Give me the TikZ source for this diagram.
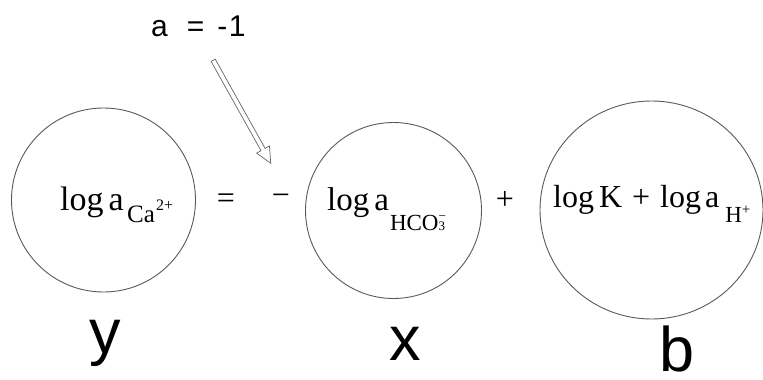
\documentclass[tikz,border=0pt]{standalone}
\usepackage{fontspec}
\setmainfont{Liberation Serif}
\newfontfamily\labelfont{Liberation Sans}
\usetikzlibrary{shapes.geometric,shapes.arrows}
\newcommand{\mysub}[3]{\raisebox{-#1}{\fontsize{#2}{#2}\selectfont #3}}
\begin{document}
\begin{tikzpicture}[x=1pt,y=-1pt,
  ring/.style={draw=black!65, line width=0.9pt, inner sep=0},
  eqtext/.style={inner sep=0, anchor=base west},
  sym/.style={inner sep=0, font=\fontsize{32}{32}\selectfont},
  varlabel/.style={inner sep=0, anchor=base, font=\labelfont\fontsize{63}{63}\selectfont},
  hollowarrow/.style={single arrow, draw=black!60, line width=0.7pt, inner sep=2pt,
    single arrow head extend=5pt, single arrow tip angle=50, minimum height=118pt,
    anchor=tail, rotate=-60.8},
]
\useasboundingbox (0,0) rectangle (763,380);

% circles
\node[ring, circle, minimum size=184pt] (c1) at (103.5,200) {};
\node[ring, circle, minimum size=176pt] (c2) at (393.5,210.5) {};
\node[ring, ellipse, minimum width=223pt, minimum height=218pt] (c3) at (651.5,210) {};

% equation texts
\node[eqtext, font=\fontsize{34}{34}\selectfont] (t1) at (60,210)
  {log\hspace{5pt}a\hspace{3.5pt}\mysub{12pt}{25}{Ca\hspace{1pt}\raisebox{12pt}{\fontsize{16}{16}\selectfont 2+}}};
\node[eqtext, font=\fontsize{33}{33}\selectfont] (t2) at (327,210)
  {log\hspace{5pt}a\hspace{1pt}\mysub{20pt}{23}{HCO\fontsize{13}{13}\selectfont\rlap{\raisebox{10pt}{−}}3}};
\node[eqtext, font=\fontsize{32}{32}\selectfont] (t3) at (553,207)
  {log\hspace{5pt}K\hspace{10pt}+\hspace{10pt}log\hspace{4pt}a\hspace{6pt}\mysub{15pt}{23}{H\raisebox{8pt}{\fontsize{15}{15}\selectfont +}}};

% operators
\node[sym] (eq) at (226,201) {=};
\node[sym] (minus) at (281,200) {−};
\node[sym] (plus) at (505,200) {+};

% coefficient and arrow
\node[inner sep=0, anchor=base west, font=\labelfont\fontsize{30}{30}\selectfont] (coef) at (151,36)
  {a\hspace{19pt}=\hspace{13pt}-\hspace{1.5pt}1};
\coordinate (arrtail) at (213,60);
\node[hollowarrow] (arr) at (arrtail) {};

% variable labels
\node[varlabel] (ly) at (105,353) {y};
\node[varlabel] (lx) at (405,360) {x};
\node[varlabel] (lb) at (677,371) {b};
\end{tikzpicture}
\end{document}
